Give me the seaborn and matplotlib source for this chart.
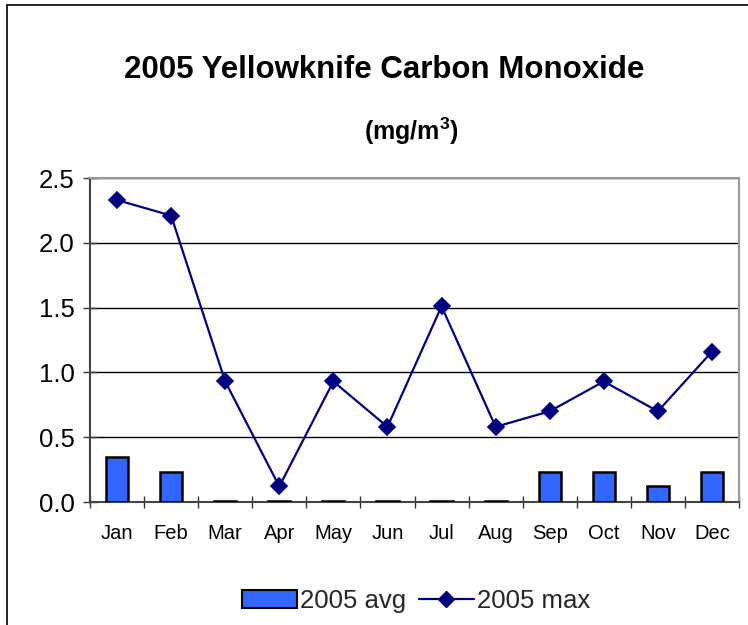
import matplotlib
matplotlib.use("Agg")
import matplotlib.pyplot as plt
import seaborn as sns
import pandas as pd
from matplotlib.patches import Patch
from matplotlib.lines import Line2D
from matplotlib.ticker import FixedLocator, FormatStrFormatter

months = ["Jan", "Feb", "Mar", "Apr", "May", "Jun", "Jul", "Aug", "Sep", "Oct", "Nov", "Dec"]
avg_2005 = [0.35, 0.23, 0.01, 0.01, 0.01, 0.01, 0.01, 0.01, 0.23, 0.23, 0.12, 0.23]
max_2005 = [2.33, 2.21, 0.93, 0.12, 0.93, 0.58, 1.51, 0.58, 0.70, 0.93, 0.70, 1.16]
y_ticks = [0.0, 0.5, 1.0, 1.5, 2.0, 2.5]

sns.set_theme(style="white")
plt.rcParams["font.family"] = ["Liberation Sans", "DejaVu Sans"]
plt.rcParams["mathtext.fontset"] = "custom"
plt.rcParams["mathtext.rm"] = "Liberation Sans"
plt.rcParams["mathtext.bf"] = "Liberation Sans:bold"

df = pd.DataFrame({"month": months, "avg": avg_2005, "max": max_2005})

fig = plt.figure(figsize=(7.48, 6.25), dpi=100)
ax = fig.add_axes([90 / 748, 1 - 502 / 625, (739 - 90) / 748, (502 - 178) / 625])

bar_color = "#3366FF"
line_color = "#000080"

sns.barplot(data=df, x="month", y="avg", order=months, color=bar_color,
            edgecolor="black", linewidth=1.8, width=0.41, saturation=1, ax=ax)
for p in ax.patches:
    p.set_zorder(3)
sns.pointplot(data=df, x="month", y="max", order=months, color=line_color,
              markers="D", markersize=8, linewidth=1.6, ax=ax)

ax.set_xlim(-0.5, len(months) - 0.5)
ax.set_ylim(y_ticks[0], y_ticks[-1])
ax.set_xlabel("")
ax.set_ylabel("")

ax.yaxis.set_major_locator(FixedLocator(y_ticks))
ax.yaxis.set_major_formatter(FormatStrFormatter("%.1f"))
ax.grid(axis="y", color="black", linewidth=1.0)
ax.set_axisbelow(True)

ax.xaxis.set_minor_locator(FixedLocator([i - 0.5 for i in range(len(months) + 1)]))
ax.tick_params(axis="x", which="major", length=0, labelsize=14.5, pad=16, colors="black")
ax.tick_params(axis="x", which="minor", length=8, width=1, direction="inout", color="#333333", bottom=True)
ax.tick_params(axis="y", which="major", length=10, width=1, direction="inout", color="#333333",
               labelsize=18.5, pad=6, left=True, labelcolor="black")

for side in ["left", "bottom"]:
    ax.spines[side].set_color("#444444")
    ax.spines[side].set_linewidth(1.5)
for side in ["top", "right"]:
    ax.spines[side].set_color("#999999")
    ax.spines[side].set_linewidth(1.5)

fig.text(384 / 748, 1 - 70 / 625, "2005 Yellowknife Carbon Monoxide", ha="center", va="center",
         fontsize=22.5, fontweight="bold", color="black")
fig.text(411 / 748, 1 - 131 / 625, r"(mg/m$^{\mathbf{3}}$)", ha="center", va="center",
         fontsize=18, fontweight="bold", color="black")

handles = [
    Patch(facecolor=bar_color, edgecolor="black", linewidth=1.5, label="2005 avg"),
    Line2D([0], [0], color=line_color, marker="D", markersize=8, linewidth=1.6, label="2005 max"),
]
fig.legend(handles=handles, loc="center", bbox_to_anchor=(416 / 748, 1 - 601 / 625), ncol=2,
           frameon=False, fontsize=18.5, handlelength=2.15, handletextpad=0.1, columnspacing=0.5)

# outer chart border
fig.add_artist(Line2D([7 / 748, 7 / 748], [-0.01, 1 - 5 / 625], color="black", linewidth=1.2))
fig.add_artist(Line2D([7 / 748, 1.01], [1 - 5 / 625, 1 - 5 / 625], color="black", linewidth=1.2))

fig.savefig("out.png", dpi=100, facecolor="white")
